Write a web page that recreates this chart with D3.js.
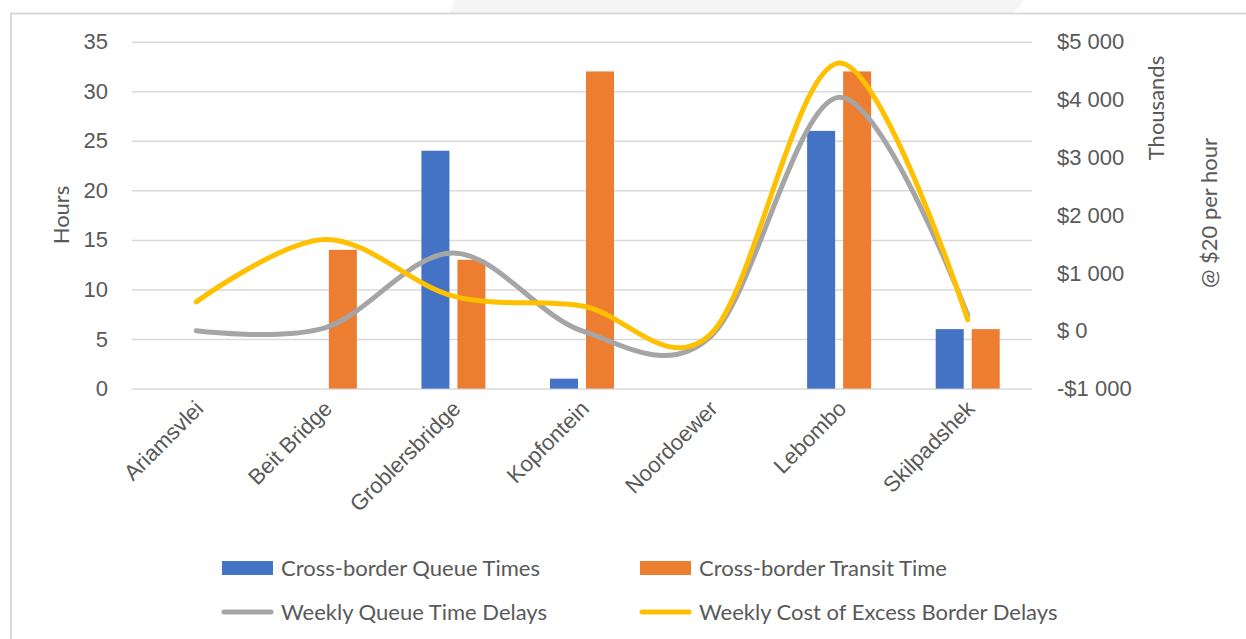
<!DOCTYPE html>
<html>
<head>
<meta charset="utf-8">
<script src="https://cdn.jsdelivr.net/npm/d3@7"></script>
<style>
  body { margin: 0; background: #fff; }
  svg { display: block; font-family: Lato, "Open Sans", sans-serif; }
  .tick text { fill: #595959; font-size: 22px; }
</style>
</head>
<body>
<div id="chart"></div>
<script>
// border posts
const categories = ["Ariamsvlei", "Beit Bridge", "Groblersbridge", "Kopfontein", "Noordoewer", "Lebombo", "Skilpadshek"];

// hours (left axis)
const queueTimes = [0, 0, 24, 1, 0, 26, 6];
const transitTimes = [0, 14, 13, 32, 0, 32, 6];

// $ thousands (right axis)
const weeklyQueueDelays = [0, 50, 1345, 0, -100, 4040, 270];
const weeklyCostDelays = [500, 1580, 600, 430, -60, 4630, 190];

const leftTicks = [0, 5, 10, 15, 20, 25, 30, 35];
const rightTicks = [-1000, 0, 1000, 2000, 3000, 4000, 5000];

const svg = d3.select("#chart")
  .append("svg")
  .attr("width", 1246)
  .attr("height", 639);

// faint page decoration + chart frame
svg.append("path")
  .attr("d", "M455,0 L1024,0 L1014,13 L450,13 Z")
  .attr("fill", "#f5f5f5");
svg.append("rect")
  .attr("x", 11).attr("y", 13.5)
  .attr("width", 1400).attr("height", 800)
  .attr("fill", "none")
  .attr("stroke", "#d9d9d9")
  .attr("stroke-width", 2);

const margin = { top: 41.7, left: 132 },
  width = 900,
  height = 346.9;

const g = svg.append("g")
  .attr("transform", `translate(${margin.left},${margin.top})`);

const x = d3.scaleBand()
  .domain(categories)
  .range([0, width]);

const xSub = d3.scaleBand()
  .domain(["queue", "transit"])
  .range([x.bandwidth() / 2 - 32, x.bandwidth() / 2 + 32])
  .paddingInner(0.222);

const yLeft = d3.scaleLinear().domain([0, 35]).range([height, 0]);
const yRight = d3.scaleLinear().domain([-1000, 5000]).range([height, 0]);

// gridlines + left axis
const leftAxis = g.append("g")
  .call(d3.axisLeft(yLeft).tickValues(leftTicks).tickSize(-width).tickPadding(24));
leftAxis.select(".domain").remove();
leftAxis.selectAll(".tick line").attr("stroke", "#d9d9d9").attr("stroke-width", 1.5);

// right axis
const fmtMoney = v => {
  if (v === 0) return "$ 0";
  const s = d3.format(",")(Math.abs(v)).replace(/,/g, " ");
  return (v < 0 ? "-$" : "$") + s;
};
const rightAxis = g.append("g")
  .attr("transform", `translate(${width},0)`)
  .call(d3.axisRight(yRight).tickValues(rightTicks).tickSize(0).tickPadding(25).tickFormat(fmtMoney));
rightAxis.select(".domain").remove();
rightAxis.selectAll(".tick text").attr("text-anchor", "start");

// category labels
const xAxis = g.append("g")
  .attr("transform", `translate(0,${height})`)
  .call(d3.axisBottom(x).tickSize(0).tickPadding(0));
xAxis.select(".domain").remove();
xAxis.selectAll(".tick text")
  .attr("text-anchor", "end")
  .attr("dy", "0.35em")
  .attr("transform", "translate(3,16) rotate(-45)");

// bars
const barData = categories.map((c, i) => [
  { cat: c, key: "queue", value: queueTimes[i] },
  { cat: c, key: "transit", value: transitTimes[i] }
]).flat();
const barColor = { queue: "#4472C4", transit: "#ED7D31" };

g.selectAll("rect.bar")
  .data(barData)
  .join("rect")
  .attr("class", "bar")
  .attr("x", d => x(d.cat) + xSub(d.key))
  .attr("width", xSub.bandwidth())
  .attr("y", d => yLeft(d.value))
  .attr("height", d => height - yLeft(d.value))
  .attr("fill", d => barColor[d.key]);

// smoothed lines
const line = d3.line()
  .x((d, i) => x(categories[i]) + x.bandwidth() / 2)
  .y(d => yRight(d))
  .curve(d3.curveCardinal.tension(0));

g.append("path")
  .datum(weeklyQueueDelays)
  .attr("d", line)
  .attr("fill", "none")
  .attr("stroke", "#A5A5A5")
  .attr("stroke-width", 5)
  .attr("stroke-linecap", "round");

g.append("path")
  .datum(weeklyCostDelays)
  .attr("d", line)
  .attr("fill", "none")
  .attr("stroke", "#FFC000")
  .attr("stroke-width", 5)
  .attr("stroke-linecap", "round");

// axis titles
svg.append("text")
  .attr("transform", "translate(69,215) rotate(-90)")
  .attr("text-anchor", "middle")
  .attr("fill", "#595959")
  .attr("font-size", 22)
  .text("Hours");

svg.append("text")
  .attr("transform", "translate(1164,108) rotate(-90)")
  .attr("text-anchor", "middle")
  .attr("fill", "#595959")
  .attr("font-size", 22)
  .text("Thousands");

svg.append("text")
  .attr("transform", "translate(1217,213) rotate(-90)")
  .attr("text-anchor", "middle")
  .attr("fill", "#595959")
  .attr("font-size", 22)
  .text("@ $20 per hour");

// legend
const legendItems = [
  { label: "Cross-border Queue Times", color: "#4472C4", type: "bar", x: 222, y: 568 },
  { label: "Cross-border Transit Time", color: "#ED7D31", type: "bar", x: 640, y: 568 },
  { label: "Weekly Queue Time Delays", color: "#A5A5A5", type: "line", x: 222, y: 612 },
  { label: "Weekly Cost of Excess Border Delays", color: "#FFC000", type: "line", x: 640, y: 612 }
];

const legend = svg.append("g");
legendItems.forEach(d => {
  if (d.type === "bar") {
    legend.append("rect")
      .attr("x", d.x).attr("y", d.y - 7)
      .attr("width", 51).attr("height", 14)
      .attr("fill", d.color);
  } else {
    legend.append("line")
      .attr("x1", d.x + 2).attr("x2", d.x + 49)
      .attr("y1", d.y).attr("y2", d.y)
      .attr("stroke", d.color)
      .attr("stroke-width", 5)
      .attr("stroke-linecap", "round");
  }
  legend.append("text")
    .attr("x", d.x + 59).attr("y", d.y)
    .attr("dy", "0.35em")
    .attr("fill", "#595959")
    .attr("font-size", 22)
    .text(d.label);
});
</script>
</body>
</html>
